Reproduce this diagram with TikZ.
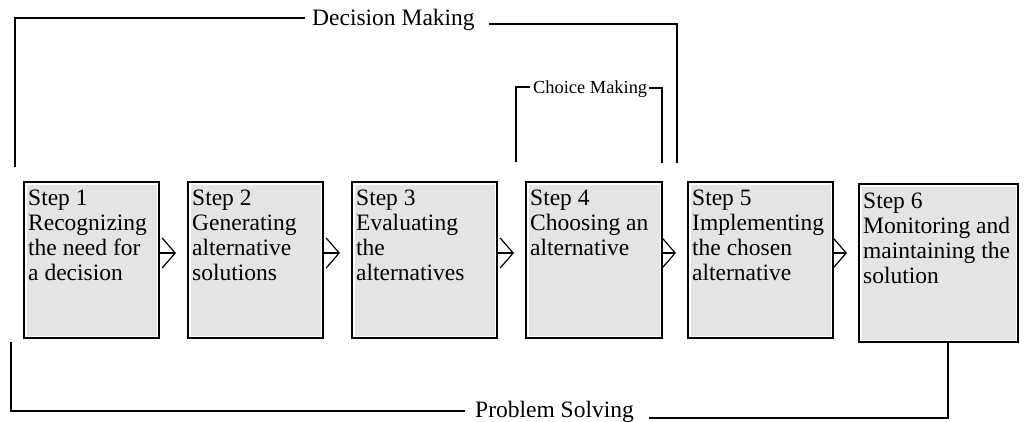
\documentclass[tikz,border=0pt]{standalone}
\usepackage{fontspec}
\setmainfont{Liberation Serif}
\usetikzlibrary{arrows.meta}
\definecolor{boxgray}{RGB}{228,228,228}
\tikzset{
  stepbox/.style={draw=black, line width=2pt, fill=boxgray, inner sep=0pt,
    minimum height=156pt,
    path picture={\draw[white, line width=1.5pt]
      ([shift={(1.75pt,-1.75pt)}]path picture bounding box.north west) rectangle
      ([shift={(-1.75pt,1.75pt)}]path picture bounding box.south east);}},
  steptext/.style={anchor=north west, inner sep=0pt, align=left,
    font=\fontsize{23.5}{25}\selectfont},
  flow/.style={line width=1.2pt, shorten >=11pt,
    -{Straight Barb[length=13pt,width=30pt]}},
  bracket/.style={line width=2pt},
  brtext/.style={inner sep=0pt, anchor=base west, font=\fontsize{23.5}{25}\selectfont},
  smalltext/.style={inner sep=0pt, anchor=base west, font=\fontsize{18.4}{20}\selectfont}
}
\begin{document}
\begin{tikzpicture}[x=1pt,y=1pt]
\useasboundingbox (0,0) rectangle (1024,-422);

% the six steps
\node[stepbox, minimum width=135pt] (s1) at (91.5,-260) {};
\node[stepbox, minimum width=135pt] (s2) at (255.5,-260) {};
\node[stepbox, minimum width=145pt] (s3) at (424.5,-260) {};
\node[stepbox, minimum width=136pt] (s4) at (594,-260) {};
\node[stepbox, minimum width=145pt] (s5) at (760.5,-260) {};
\node[stepbox, minimum width=159pt, minimum height=158pt] (s6) at (938.5,-263) {};

\node[steptext] (t1) at ([shift={(5pt,-9pt)}]s1.north west) {Step 1\\Recognizing\\the need for\\a decision};
\node[steptext] (t2) at ([shift={(5pt,-9pt)}]s2.north west) {Step 2\\Generating\\alternative\\solutions};
\node[steptext] (t3) at ([shift={(5pt,-9pt)}]s3.north west) {Step 3\\Evaluating\\the\\alternatives};
\node[steptext] (t4) at ([shift={(5pt,-9pt)}]s4.north west) {Step 4\\Choosing an\\alternative};
\node[steptext] (t5) at ([shift={(5pt,-9pt)}]s5.north west) {Step 5\\Implementing\\the chosen\\alternative};
\node[steptext] (t6) at ([shift={(5pt,-10pt)}]s6.north west) {Step 6\\Monitoring and\\maintaining the\\solution};

% flow between the steps
\draw[flow] ([yshift=7pt]s1.east) -- ([yshift=7pt]s1.east -| s2.west);
\draw[flow] ([yshift=7pt]s2.east) -- ([yshift=7pt]s2.east -| s3.west);
\draw[flow] ([yshift=7pt]s3.east) -- ([yshift=7pt]s3.east -| s4.west);
\draw[flow] ([yshift=7pt]s4.east) -- ([yshift=7pt]s4.east -| s5.west);
\draw[flow] ([yshift=7pt]s5.east) -- ([yshift=7pt]s5.east -| s6.west);

% decision making bracket
\node[brtext] (dm) at (312,-26) {Decision Making};
\coordinate (dmL) at (15,-167);
\coordinate (dmR) at (677,-163);
\draw[bracket] (dmL) |- ([shift={(-7pt,2.5pt)}]dm.west);
\draw[bracket] ([shift={(14pt,2pt)}]dm.base east) -| (dmR);

% choice making bracket
\node[smalltext] (cm) at (533,-94) {Choice Making};
\coordinate (cmL) at (516,-162);
\coordinate (cmR) at (662,-163);
\draw[bracket] (cmL) |- ([shift={(-3pt,2.5pt)}]cm.west);
\draw[bracket] ([shift={(2pt,1.5pt)}]cm.east) -| (cmR);

% problem solving bracket
\node[brtext] (ps) at (475,-417) {Problem Solving};
\coordinate (psL) at (11,-342);
\draw[bracket] (psL) |- ([xshift=-10pt]ps.west);
\draw[bracket] ([shift={(15pt,-1pt)}]ps.base east) -| ([xshift=9.5pt]s6.south);
\end{tikzpicture}
\end{document}
